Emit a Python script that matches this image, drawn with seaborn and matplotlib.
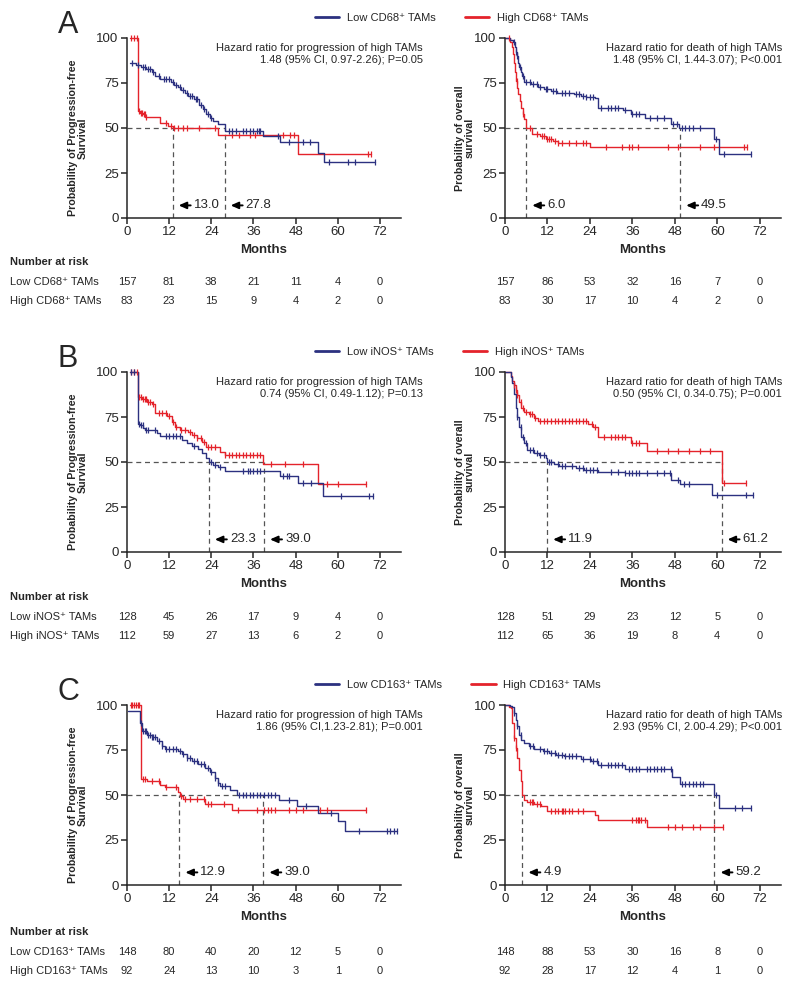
import numpy as np
import pandas as pd
import matplotlib
matplotlib.use("Agg")
import matplotlib.pyplot as plt
import matplotlib.transforms as mtransforms
from matplotlib.lines import Line2D
import seaborn as sns

NAVY = '#2c3180'
RED = '#e4232b'
DASH = '#555555'

MONTH_TICKS = [0, 12, 24, 36, 48, 60, 72]
Y_TICKS = [0, 25, 50, 75, 100]

# ---------------- A : CD68 ----------------
a_pfs_low_t = [0.9, 2.5, 4, 5.5, 7, 8, 9.5, 12.5, 13.5, 14.5, 15.5, 16.5, 17.5, 19, 20.5, 21.5, 22.5,
               23.5, 24.5, 26, 27.8, 38.8, 43.5, 54.5, 56]
a_pfs_low_s = [86, 85, 84, 82.5, 81, 79, 77, 75.6, 74, 72.5, 71, 69.5, 68, 66, 63, 60.8, 58,
               55.5, 54, 52.2, 48.2, 45.5, 42, 36.3, 31]
a_pfs_low_c = [1.5, 3, 4.5, 5, 6, 6.5, 7.5, 9, 10.5, 11, 12, 13, 14, 15, 16, 17, 18, 18.5, 19.5, 20,
               21, 22, 23, 24, 29, 30, 31, 33, 34, 35, 36, 37, 37.5, 38, 43, 46, 50, 52, 57.5, 63, 65, 70.5]
a_pfs_high_t = [0.8, 3.0, 3.8, 4.5, 5.2, 9.4, 11.8, 13.0, 26, 48.8]
a_pfs_high_s = [100, 59.5, 58.5, 57.5, 56, 52.5, 51, 49.8, 46.3, 35.7]
a_pfs_high_c = [1, 2, 2.8, 3.5, 4, 4.2, 4.8, 5, 5.5, 11, 12.5, 13.5, 14.5, 16, 17, 20.5, 25, 30, 32,
                35, 36.5, 44.5, 46.5, 47.5, 68.5, 69.5]
a_os_low_t = [0, 1.5, 2.2, 2.7, 3.0, 3.3, 3.7, 4.0, 4.4, 4.9, 5.4, 7.3, 9.2, 11, 13, 14.8, 19.6, 21.5,
              22.9, 25.3, 26.2, 33.3, 35.7, 39.5, 47, 49.3, 59, 60.6]
a_os_low_s = [100, 99, 98, 95, 92, 90, 86, 84, 81, 79, 75.6, 74.3, 72.9, 71.4, 70.4, 69.7, 69.1, 67.8,
              67.3, 66.4, 61.3, 59.9, 58, 55.6, 52.4, 49.8, 43.7, 35.7]
a_os_low_c = [2.5, 3.2, 3.5, 4.2, 5, 6, 7, 8, 9, 10, 11.5, 12, 13.5, 14.5, 16, 17, 18, 20, 21, 22, 23,
              24, 25, 27, 29, 30, 31, 32, 34, 36, 37, 38, 41, 43, 45, 47.5, 48.5, 50, 51, 52, 53, 55,
              59.5, 62, 69.5]
a_os_high_t = [0, 1.5, 2.0, 2.3, 2.6, 2.9, 3.2, 3.5, 3.8, 4.2, 4.6, 5.0, 5.4, 5.8, 6.0, 7.7, 10, 11.5,
               13.5, 15, 24]
a_os_high_s = [100, 98, 95, 91, 86, 81, 76, 72, 69, 65, 61, 58, 55, 52, 50, 46.5, 45.5, 44,
               42.5, 41.5, 39.2]
a_os_high_c = [1, 3.3, 5.2, 7, 9, 10.5, 11, 12, 12.5, 13, 14, 15, 16, 18, 20, 22, 23, 28.5, 33, 35, 36,
               37.5, 46, 49, 55, 59, 67.5, 68.5]

# ---------------- B : iNOS ----------------
b_pfs_low_t = [0.8, 3.0, 3.8, 4.6, 5.1, 8.4, 9.4, 15.6, 17, 18.4, 20.3, 21.3, 22.5, 23.3, 24.6, 26,
               27.9, 43.5, 48.8, 55.9]
b_pfs_low_s = [100, 71, 70.6, 69, 67.8, 65.9, 64.4, 62.2, 60.4, 59, 57.2, 54.8, 52.4, 49.8, 48.6, 47.2,
               45, 42.2, 38.1, 31.1]
b_pfs_low_c = [1, 2, 3.5, 4, 4.5, 5.5, 6, 8, 11, 12, 13, 14, 15, 19, 24, 25, 26.5, 33, 34.5, 35, 36,
               37, 38, 44.5, 45.5, 46, 50, 52.5, 61, 69, 70]
b_pfs_high_t = [0.8, 3.0, 4.2, 5.6, 7.0, 8.0, 11.3, 12.7, 13.7, 15, 17.5, 18.4, 19.8, 21.3, 22.5, 26.5,
                27.9, 38.8, 54.5]
b_pfs_high_s = [100, 86.1, 84.8, 83.5, 82, 77.2, 75.4, 72.4, 69.6, 67.8, 66.8, 65, 63.1, 61.3, 58.5,
                55.7, 53.9, 48.9, 37.6]
b_pfs_high_c = [1, 2, 2.8, 3.5, 4, 4.5, 5, 5.5, 6, 6.5, 7.5, 9, 10, 11, 12, 13, 14, 15.5, 16.5, 18, 19,
                20, 21, 22, 23, 24, 25, 28, 29, 30, 31, 32, 33, 34, 35, 36, 37, 38, 41, 45, 50, 57, 60, 68]
b_os_low_t = [0, 1.6, 2.0, 2.5, 3.0, 3.5, 3.9, 4.6, 5.4, 6.3, 8.2, 9.6, 11.5, 11.9, 13.8, 15.3, 20, 22.4,
              26.2, 33.8, 47, 49.5, 58.5]
b_os_low_s = [100, 97, 93.7, 88, 79.8, 75.2, 69.6, 63.9, 60.4, 56.7, 54.8, 53.9, 52.4, 49.8, 48.7, 47.8,
              46.5, 45.6, 44.6, 43.7, 40, 37.6, 31.7]
b_os_low_c = [3.5, 4.5, 5, 6, 7, 8, 9, 10, 11, 12.5, 13, 15, 16, 17, 19, 21, 22, 23, 24, 25, 26, 30, 32,
              34, 35, 36, 37, 38, 40, 43, 45, 46.5, 49, 50.5, 52, 60, 68, 70]
b_os_high_t = [0, 1.6, 2.0, 2.5, 3.0, 3.5, 3.9, 4.6, 5.4, 6.8, 8.2, 9.2, 23.4, 24.8, 26.2, 35.7, 40.2, 61.2]
b_os_high_s = [100, 98, 95, 92.8, 90, 87.2, 83.5, 79.8, 78, 76.5, 74.3, 72.8, 71, 69.6, 63.9, 60.6,
               56.1, 38.5]
b_os_high_c = [2.5, 3, 3.5, 4.5, 5, 6, 7, 7.5, 8.5, 10, 11, 12, 13, 14, 15, 16, 17, 18, 19, 20, 21, 22,
               23, 24.5, 25.5, 28, 30, 31, 32, 33, 34, 36, 37, 38, 43, 46, 49, 52, 55, 58, 62, 68]

# ---------------- C : CD163 ----------------
c_pfs_low_t = [0.4, 3.7, 4.2, 5.6, 7.0, 8.4, 9.9, 10.8, 14.6, 15.6, 17, 18.4, 20.3, 22.2, 23.6, 25, 26,
               26.5, 29.3, 31.2, 43.4, 48.3, 54.5, 60.2, 62]
c_pfs_low_s = [96.5, 90, 85.4, 83.5, 82, 80.2, 77, 75.7, 74.3, 72.8, 70.6, 69, 67.2, 65, 62.8, 59.4,
               56.7, 54.8, 53, 49.8, 47, 43.7, 40, 35.4, 30.2]
c_pfs_low_c = [4.0, 4.5, 5, 5.5, 6, 6.5, 7, 7.5, 8, 9, 10, 11, 12, 13, 14, 15, 16, 17, 18, 19, 20, 21,
               22, 23, 24, 25, 26, 27, 28, 32, 33, 34, 35, 36, 37, 38, 39, 40, 41, 42, 46, 51, 58, 66,
               74, 75, 76, 77]
c_pfs_high_t = [0.8, 3.9, 5.6, 9.4, 10.8, 14.6, 15.1, 16, 22.2, 29.8]
c_pfs_high_s = [100, 59.1, 57.6, 55.7, 54.3, 51.9, 49.4, 48, 45, 41.5]
c_pfs_high_c = [1, 1.5, 2, 2.5, 3, 3.5, 4.5, 5, 7, 9, 11, 14, 15.5, 16.5, 18, 20, 22, 23, 24, 27.5,
                31.5, 37, 39, 40, 41, 42, 46, 48, 50, 55, 57, 68]
c_os_low_t = [0, 1.4, 2.0, 2.5, 3.0, 3.5, 3.9, 4.6, 5.4, 6.8, 8.2, 10.6, 12.5, 14.4, 16.7, 21.5, 24.3,
              26.2, 33.8, 47.1, 49.5, 59.0, 60.6]
c_os_low_s = [100, 99.5, 98.7, 95.6, 91.9, 88.1, 83.5, 80.7, 78.9, 77, 75.7, 74.3, 73.3, 72.4, 71.5,
              70.2, 68.7, 66.9, 64.6, 59.8, 56.1, 49.9, 42.8]
c_os_low_c = [2.5, 3.5, 4.5, 7, 8, 10, 11, 12, 13, 14, 15, 16, 17, 18, 19, 20, 22, 24, 25, 26, 27, 29,
              30, 31, 32, 33, 35, 36, 37, 38, 40, 41, 42, 43, 44, 45, 47, 50, 51, 52, 53, 54, 55, 56,
              59.5, 65, 67, 69.5]
c_os_high_t = [0, 1.1, 1.6, 2.0, 2.5, 3.0, 3.5, 3.9, 4.4, 4.9, 5.4, 6.3, 8.2, 10.1, 12, 25.3, 26.2, 40]
c_os_high_s = [100, 99, 98.3, 90, 81.7, 76, 70.6, 64, 57.6, 49.8, 47.4, 46.1, 45, 43.7, 40.9, 38.7,
               35.9, 32]
c_os_high_c = [2.6, 3.1, 7, 7.5, 8, 9, 10, 13, 14, 15, 16, 16.5, 17, 18, 19, 20.5, 22, 36, 37, 37.5, 38,
               38.5, 39.5, 46, 48, 50, 53, 55, 59, 61.5]

# medians: where the dashed line sits, and the printed value
a_pfs_med, a_pfs_lbl = [13.0, 27.8], ['13.0', '27.8']
a_os_med, a_os_lbl = [6.0, 49.5], ['6.0', '49.5']
b_pfs_med, b_pfs_lbl = [23.3, 39.0], ['23.3', '39.0']
b_os_med, b_os_lbl = [11.9, 61.2], ['11.9', '61.2']
c_pfs_med, c_pfs_lbl = [14.9, 38.8], ['12.9', '39.0']
c_os_med, c_os_lbl = [4.9, 59.2], ['4.9', '59.2']

# number at risk
a_pfs_risk = [[157, 81, 38, 21, 11, 4, 0], [83, 23, 15, 9, 4, 2, 0]]
a_os_risk = [[157, 86, 53, 32, 16, 7, 0], [83, 30, 17, 10, 4, 2, 0]]
b_pfs_risk = [[128, 45, 26, 17, 9, 4, 0], [112, 59, 27, 13, 6, 2, 0]]
b_os_risk = [[128, 51, 29, 23, 12, 5, 0], [112, 65, 36, 19, 8, 4, 0]]
c_pfs_risk = [[148, 80, 40, 20, 12, 5, 0], [92, 24, 13, 10, 3, 1, 0]]
c_os_risk = [[148, 88, 53, 30, 16, 8, 0], [92, 28, 17, 12, 4, 1, 0]]

markers = ['CD68', 'iNOS', 'CD163']
pfs_hr = ['1.48 (95% CI, 0.97-2.26); P=0.05', '0.74 (95% CI, 0.49-1.12); P=0.13',
          '1.86 (95% CI,1.23-2.81); P=0.001']
os_hr = ['1.48 (95% CI, 1.44-3.07); P<0.001', '0.50 (95% CI, 0.34-0.75); P=0.001',
         '2.93 (95% CI, 2.00-4.29); P<0.001']

W, H = 800, 989


def fx(px):
    return px / W


def fy(py):
    return 1 - py / H


def km_frames(t, s, cens):
    end = max(max(cens), t[-1])
    curve = pd.DataFrame({'month': list(t) + [end], 'surv': list(s) + [s[-1]]})
    idx = np.searchsorted(t, cens, side='right') - 1
    marks = pd.DataFrame({'month': cens, 'surv': np.array(s)[idx]})
    return curve, marks


def draw_km(ax, t, s, cens, color):
    curve, marks = km_frames(t, s, cens)
    sns.lineplot(data=curve, x='month', y='surv', ax=ax, color=color, linewidth=1.0,
                 drawstyle='steps-post', estimator=None, sort=False, clip_on=False)
    sns.scatterplot(data=marks, x='month', y='surv', ax=ax, marker='|', color=color,
                    s=22, linewidth=0.9, clip_on=False, zorder=3)


def median_arrow(ax, m, label):
    # arrow head 6 px right of the dashed line, tail at +18 px, text from +21 px
    head = mtransforms.offset_copy(ax.transData, fig=fig, x=6, y=0, units='dots')
    tail = mtransforms.offset_copy(ax.transData, fig=fig, x=18, y=0, units='dots')
    txt = mtransforms.offset_copy(ax.transData, fig=fig, x=21, y=0, units='dots')
    ax.annotate('', xy=(m, 7), xycoords=head, xytext=(m, 7), textcoords=tail,
                arrowprops=dict(arrowstyle='-|>,head_length=0.45,head_width=0.2',
                                color='black', lw=1.4, shrinkA=0, shrinkB=0))
    ax.text(m, 7, label, transform=txt, ha='left', va='center', fontsize=9.5)


sns.set_style('ticks')
plt.rcParams['font.family'] = ['Liberation Sans', 'DejaVu Sans']
plt.rcParams['axes.linewidth'] = 1.1

fig = plt.figure(figsize=(8, 9.89), dpi=100)

panels = [
    dict(letter='A', top=38, rows=(262, 282, 301),
         pfs=(a_pfs_low_t, a_pfs_low_s, a_pfs_low_c, a_pfs_high_t, a_pfs_high_s, a_pfs_high_c),
         os=(a_os_low_t, a_os_low_s, a_os_low_c, a_os_high_t, a_os_high_s, a_os_high_c),
         med=(a_pfs_med, a_pfs_lbl, a_os_med, a_os_lbl), risk=(a_pfs_risk, a_os_risk)),
    dict(letter='B', top=372, rows=(597, 617, 636),
         pfs=(b_pfs_low_t, b_pfs_low_s, b_pfs_low_c, b_pfs_high_t, b_pfs_high_s, b_pfs_high_c),
         os=(b_os_low_t, b_os_low_s, b_os_low_c, b_os_high_t, b_os_high_s, b_os_high_c),
         med=(b_pfs_med, b_pfs_lbl, b_os_med, b_os_lbl), risk=(b_pfs_risk, b_os_risk)),
    dict(letter='C', top=705, rows=(932, 952, 971),
         pfs=(c_pfs_low_t, c_pfs_low_s, c_pfs_low_c, c_pfs_high_t, c_pfs_high_s, c_pfs_high_c),
         os=(c_os_low_t, c_os_low_s, c_os_low_c, c_os_high_t, c_os_high_s, c_os_high_c),
         med=(c_pfs_med, c_pfs_lbl, c_os_med, c_os_lbl), risk=(c_pfs_risk, c_os_risk)),
]

for i, p in enumerate(panels):
    top = p['top']
    mk = markers[i]
    low_lbl = f'Low {mk}\u207a TAMs'
    high_lbl = f'High {mk}\u207a TAMs'

    ax_l = fig.add_axes([fx(127), fy(top + 180), fx(274), 180 / H])
    ax_r = fig.add_axes([fx(505), fy(top + 180), fx(276), 180 / H])

    for ax, x_left, width, data, meds, lbls, ylab, ylab_x, hr_head, hr, hr_x, risk in [
        (ax_l, 127, 274, p['pfs'], p['med'][0], p['med'][1], 'Probability of Progression-free\nSurvival',
         88, 'Hazard ratio for progression of high TAMs', pfs_hr[i], 423, p['risk'][0]),
        (ax_r, 505, 276, p['os'], p['med'][2], p['med'][3], 'Probability of overall\nsurvival',
         475, 'Hazard ratio for death of high TAMs', os_hr[i], 782, p['risk'][1]),
    ]:
        lt, ls_, lc, ht, hs, hc = data
        # dashed median guides
        ax.plot([0, max(meds)], [50, 50], ls=(0, (4, 3)), color=DASH, lw=0.9, zorder=1)
        for m in meds:
            ax.plot([m, m], [0, 50], ls=(0, (4, 3)), color=DASH, lw=0.9, zorder=1)
        draw_km(ax, ht, hs, hc, RED)
        draw_km(ax, lt, ls_, lc, NAVY)

        for m, lb in zip(meds, lbls):
            median_arrow(ax, m, lb)

        ax.set_xlim(0, 78)
        ax.set_ylim(0, 100)
        ax.set_xticks(MONTH_TICKS)
        ax.set_yticks(Y_TICKS)
        sns.despine(ax=ax)
        ax.tick_params(labelsize=9.5, length=4, width=1.1, pad=2)
        ax.set_xlabel('Months', fontweight='bold', fontsize=9.5, labelpad=4)
        ax.set_ylabel(ylab, fontweight='bold', fontsize=7.7, linespacing=1.05)
        ax.yaxis.set_label_coords((ylab_x - x_left) / width, (180 - 100) / 180)

        fig.text(fx(hr_x), fy(top + 5), hr_head + '\n' + hr, ha='right', va='top',
                 fontsize=8, linespacing=1.25, multialignment='right')

        tr = mtransforms.blended_transform_factory(ax.transData, fig.transFigure)
        for row, counts in zip(p['rows'][1:], risk):
            for x, n in zip(MONTH_TICKS, counts):
                ax.text(x, fy(row), str(n), transform=tr, ha='center', va='center', fontsize=8)

    fig.text(fx(68), fy(top - 13), p['letter'], ha='center', va='center', fontsize=22)
    fig.text(fx(10), fy(p['rows'][0]), 'Number at risk', ha='left', va='center',
             fontsize=8, fontweight='bold')
    fig.text(fx(10), fy(p['rows'][1]), low_lbl, ha='left', va='center', fontsize=8)
    fig.text(fx(10), fy(p['rows'][2]), high_lbl, ha='left', va='center', fontsize=8)

    handles = [Line2D([], [], color=NAVY, lw=2), Line2D([], [], color=RED, lw=2)]
    fig.legend(handles, [low_lbl, high_lbl], loc='center left',
               bbox_to_anchor=(fx(315), fy(top - 20)), ncol=2, frameon=False, fontsize=8,
               handlelength=2.2, handletextpad=0.7, columnspacing=2.6, borderpad=0,
               borderaxespad=0)

fig.savefig('out.png', dpi=100)
